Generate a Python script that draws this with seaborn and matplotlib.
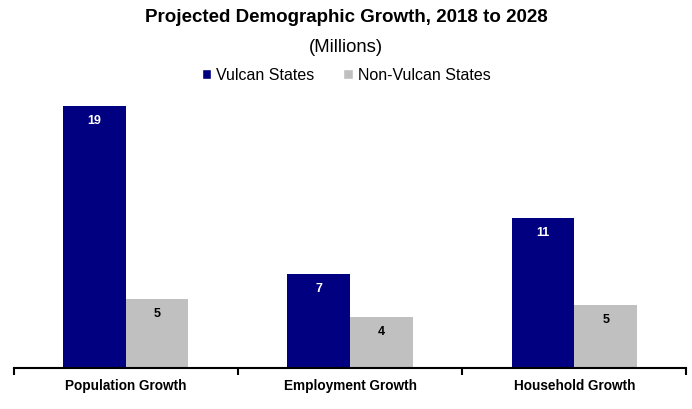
import pandas as pd
import seaborn as sns
import matplotlib.pyplot as plt
from matplotlib.patches import Patch

categories = ['Population Growth', 'Employment Growth', 'Household Growth']
vulcan = [19.0, 6.8, 10.9]
non_vulcan = [5.0, 3.7, 4.6]
series = ['Vulcan States', 'Non-Vulcan States']
colors = ['#000080', '#C0C0C0']

df = pd.DataFrame({
    'Category': categories * 2,
    'Group': [series[0]] * 3 + [series[1]] * 3,
    'Value': vulcan + non_vulcan,
})

sns.set_style('white')
plt.rcParams['font.family'] = ['Liberation Sans', 'DejaVu Sans']
plt.rcParams['text.color'] = 'black'
plt.rcParams['xtick.color'] = 'black'

fig = plt.figure(figsize=(6.92, 4.10), dpi=100)
ax = fig.add_axes([13.5 / 692, 41 / 410, 673 / 692, 276 / 410])

sns.barplot(data=df, x='Category', y='Value', hue='Group', order=categories,
            hue_order=series, palette=colors, width=0.56, saturation=1,
            linewidth=0, legend=False, ax=ax)

# value labels inside the top of each bar
for container, col in zip(ax.containers, ['white', 'black']):
    for bar in container:
        h = bar.get_height()
        ax.annotate(f'{h:.0f}', (bar.get_x() + bar.get_width() / 2, h),
                    xytext=(0, -14), textcoords='offset pixels',
                    ha='center', va='center', fontsize=9, fontweight='bold', color=col)

ax.set_xlim(-0.5, 2.5)
ax.set_ylim(0, 20)
ax.set_xlabel('')
ax.set_ylabel('')
ax.set_yticks([])
for s in ['top', 'right', 'left']:
    ax.spines[s].set_visible(False)
ax.spines['bottom'].set_linewidth(1.5)
ax.spines['bottom'].set_color('black')
ax.set_xticks([0, 1, 2])
ax.set_xticklabels(categories, fontsize=9.8, fontweight='bold')
ax.set_xticks([-0.5, 0.5, 1.5, 2.5], minor=True)
ax.tick_params(axis='x', which='major', bottom=False, length=0, pad=7)
ax.tick_params(axis='x', which='minor', bottom=True, length=5, width=1.5,
               direction='out', color='black')

fig.text(0.5, 1 - 18 / 410, 'Projected Demographic Growth, 2018 to 2028',
         ha='center', va='center', fontsize=13.5, fontweight='bold')
fig.text(0.5, 1 - 47 / 410, '(Millions)', ha='center', va='center', fontsize=13.3)

handles = [Patch(facecolor=c, label=s) for c, s in zip(colors, series)]
fig.legend(handles=handles, loc='center', bbox_to_anchor=(0.5, 1 - 76 / 410),
           ncol=2, frameon=False, fontsize=11.5, handlelength=0.6, handleheight=0.6,
           handletextpad=0.3, columnspacing=1.8)

fig.savefig('out.png', dpi=100)
